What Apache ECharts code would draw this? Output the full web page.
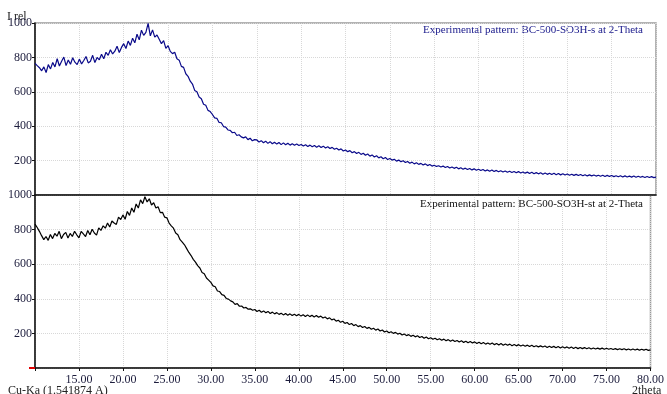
<!DOCTYPE html>
<html><head><meta charset="utf-8">
<script src="https://cdn.jsdelivr.net/npm/echarts@6/dist/echarts.min.js"></script>
<style>html,body{margin:0;padding:0;background:#fff}#c{width:667px;height:394px}</style>
</head><body><div id="c"></div>
<script>
// 2-theta sampling grid: start 10, step 0.25, up to 80
var thetaStart = 10, thetaStep = 0.25;
var xTickLabels = ['15.00','20.00','25.00','30.00','35.00','40.00','45.00','50.00','55.00','60.00','65.00','70.00','75.00','80.00'];
var yTickLabels = ['200','400','600','800','1000'];
var titleTop = 'Experimental pattern: BC-500-SO3H-s at 2-Theta';
var titleBottom = 'Experimental pattern: BC-500-SO3H-st at 2-Theta';

var seriesS = [
765,752,740,722,745,712,758,733,770,745,792,750,778,802,752,785,760,798,772,758,
790,762,782,805,768,778,812,770,800,786,818,792,830,812,845,820,836,865,828,858,
880,852,895,870,912,885,935,902,958,928,946,998,925,960,918,930,905,880,898,852,
868,835,822,830,792,784,748,742,705,690,662,645,608,600,570,560,528,522,492,485,
468,448,446,422,420,398,395,378,376,362,365,346,350,338,332,338,322,330,315,322,
320,308,316,304,313,300,310,298,307,296,305,293,303,292,301,290,298,289,296,288,
294,285,292,282,290,280,288,278,286,276,284,273,280,270,277,266,272,262,268,256,
262,252,258,246,252,241,248,236,243,231,238,226,233,221,228,216,222,211,218,206,
212,203,208,197,203,193,199,189,195,185,191,181,188,178,184,174,181,171,177,168,
173,166,170,163,168,160,166,157,163,155,161,152,158,150,156,148,154,146,152,144,
150,142,148,140,146,138,145,137,143,135,141,134,140,132,138,131,137,129,136,128,
134,127,133,125,132,124,130,123,129,121,128,120,127,119,126,118,125,117,124,116,
122,115,121,114,120,113,119,112,118,111,117,111,116,110,115,109,115,108,114,108,
113,107,112,106,112,105,111,105,110,104,110,103,109,103,108,102,108,102,107,101,
104];

var seriesSt = [
832,812,790,765,742,760,738,772,748,778,762,790,748,772,784,752,778,760,790,770,
752,790,775,760,795,770,802,780,768,810,795,822,808,838,815,850,838,830,872,858,
885,860,905,882,925,900,948,925,972,950,990,960,978,942,955,925,932,898,900,872,
868,838,822,808,780,770,742,728,712,690,668,650,628,612,592,578,552,545,520,508,
495,475,470,445,442,424,420,402,398,388,382,368,372,357,358,347,350,340,342,334,
338,327,334,322,330,319,327,315,323,313,320,310,317,307,315,305,313,303,311,302,
310,300,308,298,307,297,305,295,303,293,300,289,295,284,290,278,283,271,276,264,
270,258,263,251,257,245,251,239,245,234,240,229,235,224,230,219,225,214,220,208,
214,204,210,200,206,196,201,191,197,187,193,183,189,180,186,176,182,172,179,169,
175,166,172,163,169,160,167,157,164,155,162,153,159,150,157,148,155,146,153,144,
151,142,149,140,147,138,145,137,144,135,142,133,141,132,139,131,138,129,136,128,
135,127,133,126,132,124,131,123,129,122,128,121,127,119,126,118,125,117,124,116,
123,116,122,114,121,113,120,112,119,112,118,111,117,110,116,110,115,109,115,108,
114,108,113,107,112,106,111,106,111,105,110,104,110,104,109,103,108,103,108,102,
105];

function pairs(arr){ return arr.map(function(v,i){ return [thetaStart + i*thetaStep, v]; }); }

var FONT = '"Liberation Serif","DejaVu Serif",serif';
var LBL = '#1c1c3c';

function xAxis(idx, showLabels){
  return {
    type:'value', gridIndex: idx, min:10, max:80, interval:5,
    axisLine:{show:true, lineStyle:{color:'#111', width:1.5}},
    axisTick:{show:showLabels, length:3, lineStyle:{color:'#111'}},
    axisLabel:{show:showLabels, margin:6, fontFamily:FONT, fontSize:12, color:LBL,
      formatter:function(v){ var s=v.toFixed(2); return xTickLabels.indexOf(s)>=0 ? s : ''; }},
    splitLine:{show:true, lineStyle:{color:'#d8d8d8', type:'dotted', width:1}}
  };
}
function yAxis(idx){
  return {
    type:'value', gridIndex: idx, min:0, max:1000, interval:200,
    axisLine:{show:true, lineStyle:{color:'#111', width:1.5}},
    axisTick:{show:true, length:3, lineStyle:{color:'#111'}},
    axisLabel:{margin:3, fontFamily:FONT, fontSize:12, color:LBL,
      formatter:function(v){ var s=String(v); return yTickLabels.indexOf(s)>=0 ? s : ''; }},
    splitLine:{show:true, lineStyle:{color:'#d8d8d8', type:'dotted', width:1}}
  };
}

var chart = echarts.init(document.getElementById('c'), null, {renderer:'canvas'});
chart.setOption({
  animation:false,
  grid:[
    {left:35, right:11, top:23, height:172, show:true, borderColor:'#9a9a9a', borderWidth:1.5, backgroundColor:'transparent'},
    {left:35, right:11, top:195, height:173, show:true, borderColor:'#9a9a9a', borderWidth:1.5, backgroundColor:'transparent'}
  ],
  xAxis:[xAxis(0,false), xAxis(1,true)],
  yAxis:[yAxis(0), yAxis(1)],
  series:[
    {type:'line', xAxisIndex:0, yAxisIndex:0, data:pairs(seriesS), showSymbol:false,
      lineStyle:{color:'#0a0a8a', width:1.2}, z:5},
    {type:'line', xAxisIndex:1, yAxisIndex:1, data:pairs(seriesSt), showSymbol:false,
      lineStyle:{color:'#000', width:1.2}, z:5}
  ],
  graphic:[
    {type:'text', right:24, top:25, style:{text:titleTop, font:'11px '+FONT, fill:'#1a1a8c'}},
    {type:'text', right:24, top:199, style:{text:titleBottom, font:'11px '+FONT, fill:'#111'}},
    {type:'text', left:7, top:11, style:{text:'I rel', font:'12px '+FONT, fill:'#222'}},
    {type:'text', left:8, top:385, style:{text:'Cu-Ka (1.541874 A)', font:'12px '+FONT, fill:'#222'}},
    {type:'text', left:632, top:385, style:{text:'2theta', font:'12px '+FONT, fill:'#222'}},
    {type:'line', shape:{x1:29, y1:368, x2:35, y2:368}, style:{stroke:'#e00000', lineWidth:2}, z:10}
  ]
});
</script></body></html>
